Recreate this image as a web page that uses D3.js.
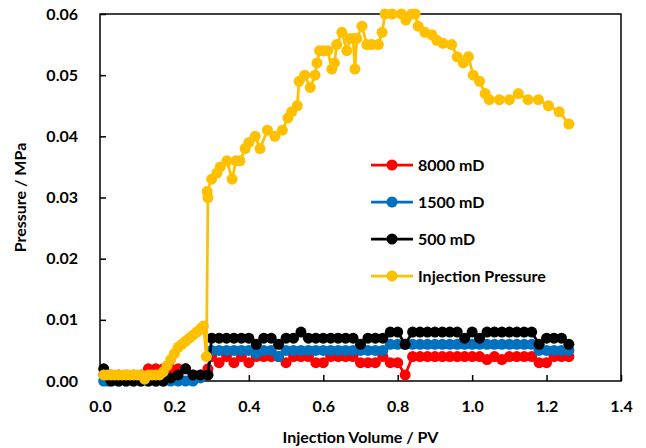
<!DOCTYPE html>
<html>
<head>
<meta charset="utf-8">
<script src="https://cdn.jsdelivr.net/npm/d3@7"></script>
<style>
  body { margin: 0; background: #fff; }
  text { font-family: Lato, "Liberation Sans", sans-serif; font-weight: bold; }
</style>
</head>
<body>
<svg id="graph"></svg>
<script>
// injection pressure (yellow)
const injVolume = [0.01,0.02,0.03,0.04,0.05,0.06,0.07,0.08,0.09,0.10,0.11,0.12,0.13,0.14,0.15,0.16,
  0.17,0.18,0.19,0.20,0.21,0.22,0.23,0.24,0.25,0.26,0.27,0.278,0.286,0.29,0.288,0.30,0.314,0.323,
  0.341,0.355,0.365,0.376,0.39,0.40,0.417,0.43,0.45,0.47,0.49,0.505,0.515,0.53,0.535,0.55,0.565,
  0.578,0.583,0.59,0.60,0.612,0.623,0.63,0.636,0.65,0.663,0.672,0.68,0.685,0.69,0.704,0.717,0.73,
  0.748,0.758,0.766,0.785,0.81,0.822,0.838,0.847,0.855,0.873,0.892,0.905,0.922,0.945,0.96,0.976,
  0.99,1.003,1.02,1.035,1.046,1.073,1.10,1.124,1.15,1.178,1.205,1.234,1.26]
const injPressure = [0.001,0.001,0.001,0.001,0.001,0.001,0.001,0.001,0.001,0.001,0.001,0.0003,0.001,0.001,0.001,0.001,
  0.0015,0.0025,0.0035,0.0045,0.0055,0.006,0.0065,0.007,0.0075,0.008,0.0085,0.009,0.004,0.030,0.031,0.033,0.034,0.035,
  0.036,0.033,0.036,0.036,0.038,0.039,0.040,0.038,0.041,0.040,0.041,0.043,0.044,0.045,0.049,0.050,0.048,
  0.050,0.052,0.054,0.054,0.054,0.051,0.052,0.055,0.057,0.054,0.056,0.056,0.051,0.056,0.058,0.055,0.055,
  0.055,0.057,0.060,0.060,0.060,0.059,0.060,0.060,0.058,0.057,0.0566,0.0557,0.0552,0.055,0.053,0.052,
  0.053,0.050,0.049,0.047,0.046,0.046,0.046,0.047,0.046,0.046,0.045,0.044,0.042]

// core pressures, shared injection volumes
const pvSteps = [0.01,0.02,0.03,0.05,0.07,0.09,0.11,0.13,0.15,0.17,0.19,0.21,0.23,0.25,0.27,0.29,
  0.30,0.32,0.34,0.36,0.38,0.40,0.42,0.44,0.46,0.48,0.50,0.52,0.54,0.56,0.58,0.60,0.62,0.64,0.66,0.68,
  0.70,0.72,0.74,0.76,0.78,0.80,0.82,0.84,0.86,0.88,0.90,0.92,0.94,0.96,0.98,1.00,1.02,1.04,1.06,1.08,
  1.10,1.12,1.14,1.16,1.18,1.20,1.22,1.24,1.26]
const core8000 = [0.001,0.001,0.001,0.001,0.001,0.001,0.001,0.002,0.002,0.002,0.002,0.002,0.002,0.001,0.001,0.002,
  0.004,0.003,0.004,0.003,0.004,0.003,0.004,0.004,0.004,0.004,0.003,0.004,0.004,0.004,0.003,0.003,0.004,0.004,0.004,0.004,
  0.003,0.003,0.003,0.004,0.003,0.003,0.001,0.004,0.004,0.004,0.004,0.004,0.004,0.004,0.004,0.004,0.004,0.0035,0.004,0.0035,
  0.004,0.004,0.004,0.004,0.003,0.003,0.004,0.004,0.004]
const core1500 = [0,0,0,0,0,0,0,0,0,0,0,0,0,0,0.0005,0.001,
  0.005,0.005,0.005,0.005,0.005,0.005,0.0045,0.005,0.005,0.004,0.005,0.005,0.005,0.005,0.005,0.005,0.005,0.005,0.005,0.005,
  0.005,0.005,0.005,0.005,0.006,0.006,0.006,0.006,0.006,0.006,0.006,0.006,0.006,0.006,0.006,0.006,0.006,0.006,0.006,0.006,
  0.006,0.006,0.006,0.006,0.005,0.005,0.005,0.005,0.005]
const core500 = [0.002,0.001,0,0,0,0,0,0,0,0,0.0005,0.001,0.002,0.001,0.001,0.001,
  0.007,0.007,0.007,0.007,0.007,0.007,0.006,0.007,0.007,0.006,0.007,0.007,0.008,0.007,0.007,0.007,0.007,0.007,0.007,0.007,
  0.006,0.007,0.007,0.007,0.008,0.008,0.006,0.008,0.008,0.008,0.008,0.008,0.008,0.008,0.007,0.008,0.007,0.008,0.008,0.008,
  0.008,0.008,0.008,0.008,0.006,0.007,0.007,0.007,0.006]

const seriesNames = ['8000 mD', '1500 mD', '500 mD', 'Injection Pressure']
const seriesColors = ['#ff0000', '#0070c0', '#000000', '#ffc000']
const xTicks = [0, 0.2, 0.4, 0.6, 0.8, 1.0, 1.2, 1.4]
const yTicks = [0, 0.01, 0.02, 0.03, 0.04, 0.05, 0.06]

let margin = {top: 14, bottom: 67, left: 100, right: 25}
let fullWidth = 646, fullHeight = 448
let width = fullWidth - margin.left - margin.right
let height = fullHeight - margin.top - margin.bottom

let svg = d3.select('svg#graph')
  .attr('width', fullWidth)
  .attr('height', fullHeight)

svg.append('rect').attr('width', fullWidth).attr('height', fullHeight).attr('fill', '#fff')

let graph = svg.append('g')
  .attr('transform', 'translate(' + margin.left + ',' + margin.top + ')')

let x = d3.scaleLinear().domain([0, 1.4]).range([0, width])
let y = d3.scaleLinear().domain([0, 0.06]).range([height, 0])

// frame
graph.append('rect')
  .attr('width', width).attr('height', height)
  .attr('fill', 'none').attr('stroke', '#000').attr('stroke-width', 1.5)

let xAxis = graph.append('g')
  .attr('transform', 'translate(0,' + height + ')')
  .call(d3.axisBottom(x).tickValues(xTicks).tickFormat(d3.format('.1f'))
    .tickSizeInner(-6).tickSizeOuter(0).tickPadding(20))
let yAxis = graph.append('g')
  .call(d3.axisLeft(y).tickValues(yTicks).tickFormat(d3.format('.2f'))
    .tickSizeInner(-6).tickSizeOuter(0).tickPadding(22))

for (let ax of [xAxis, yAxis]) {
  ax.select('.domain').remove()
  ax.selectAll('.tick line').attr('stroke', '#000').attr('stroke-width', 1.5)
  ax.selectAll('.tick text').attr('fill', '#000').style('font-size', '16px')
}

let seriesData = [
  pvSteps.map((v, i) => [v, core8000[i]]),
  pvSteps.map((v, i) => [v, core1500[i]]),
  pvSteps.map((v, i) => [v, core500[i]]),
  injVolume.map((v, i) => [v, injPressure[i]])
]

let line = d3.line().x(d => x(d[0])).y(d => y(d[1]))

seriesData.forEach((data, k) => {
  let g = graph.append('g')
  g.append('path')
    .attr('d', line(data))
    .attr('fill', 'none')
    .attr('stroke', seriesColors[k])
    .attr('stroke-width', 2.75)
  g.selectAll('circle').data(data).join('circle')
    .attr('cx', d => x(d[0]))
    .attr('cy', d => y(d[1]))
    .attr('r', 5.5)
    .attr('fill', seriesColors[k])
})

// axis titles
svg.append('text')
  .attr('x', margin.left + width / 2).attr('y', 443)
  .attr('text-anchor', 'middle').style('font-size', '16px')
  .text('Injection Volume / PV')
svg.append('text')
  .attr('transform', 'translate(26,' + (margin.top + height / 2) + ') rotate(-90)')
  .attr('text-anchor', 'middle').style('font-size', '16px')
  .text('Pressure / MPa')

// legend
let legend = svg.append('g').attr('transform', 'translate(371,165)')
seriesNames.forEach((name, k) => {
  let row = legend.append('g').attr('transform', 'translate(0,' + k * 37 + ')')
  row.append('line').attr('x1', 0).attr('x2', 42)
    .attr('stroke', seriesColors[k]).attr('stroke-width', 2.75)
  row.append('circle').attr('cx', 21).attr('r', 5.5).attr('fill', seriesColors[k])
  row.append('text').attr('x', 47).attr('dy', '0.35em')
    .style('font-size', '16px').text(name)
})
</script>
</body>
</html>
